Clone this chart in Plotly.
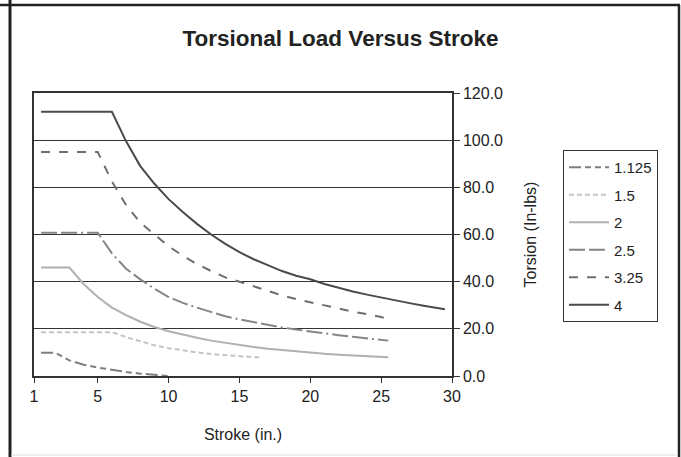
import plotly.graph_objects as go

# ---- data ----
x_1125 = [1, 2, 3, 4, 5, 6, 7, 8, 9, 10]
y_1125 = [9.9, 9.9, 6.6, 4.8, 3.6, 2.6, 1.7, 1.0, 0.4, 0.0]

x_15 = [1, 2, 3, 4, 5, 6, 7, 8, 9, 10, 11, 12, 13, 14, 15, 16, 16.5]
y_15 = [18.6, 18.6, 18.6, 18.6, 18.6, 18.6, 16.5, 14.6, 13.0, 11.8, 10.8, 10.0, 9.3, 8.8, 8.4, 8.0, 7.9]

x_2 = [1, 2, 3, 4, 5, 6, 7, 8, 9, 10, 11, 12, 13, 14, 15, 16, 17, 18, 19, 20, 21, 22, 23, 24, 25, 25.5]
y_2 = [46, 46, 46, 39, 33.5, 29, 25.8, 23, 20.8, 19, 17.5, 16.2, 15, 14, 13, 12.3, 11.6, 11, 10.4, 9.9, 9.4, 9, 8.6, 8.3, 8.0, 7.9]

x_25 = [1, 2, 3, 4, 5, 6, 7, 8, 9, 10, 11, 12, 13, 14, 15, 16, 17, 18, 19, 20, 21, 22, 23, 24, 25, 25.5]
y_25 = [60.7, 60.7, 60.7, 60.7, 60.7, 52, 45.5, 41, 37, 33.5, 31, 29, 27, 25.3, 24, 22.8, 21.6, 20.6, 19.7, 18.8, 18, 17.3, 16.6, 16, 15.3, 15]

x_325 = [1, 2, 3, 4, 5, 6, 7, 8, 9, 10, 11, 12, 13, 14, 15, 16, 17, 18, 19, 20, 21, 22, 23, 24, 25, 25.5]
y_325 = [95, 95, 95, 95, 95, 82.5, 72.5, 65, 59.8, 55, 51, 47.5, 44.5, 41.8, 40, 38, 36, 34.2, 32.6, 31.2, 29.8, 28.5, 27.3, 26.2, 25, 24]

x_4 = [1, 2, 3, 4, 5, 6, 7, 8, 9, 10, 11, 12, 13, 14, 15, 16, 17, 18, 19, 20, 21, 22, 23, 24, 25, 26, 27, 28, 29, 29.5]
y_4 = [112, 112, 112, 112, 112, 112, 99.5, 89, 81.5, 75, 69.5, 64.5, 60, 56, 52.5, 49.5, 47, 44.5, 42.5, 41, 39, 37.3, 35.8, 34.5, 33.2, 32, 30.9, 29.8, 28.8, 28.3]

series_names = ["1.125", "1.5", "2", "2.5", "3.25", "4"]
x_tick_vals = [0.5, 5, 10, 15, 20, 25, 30]
x_tick_text = ["1", "5", "10", "15", "20", "25", "30"]
y_tick_vals = [0, 20, 40, 60, 80, 100, 120]

FONT = "Arial, Liberation Sans, sans-serif"

styles = [
    dict(color="#7f7f7f", width=2, dash="12px,4px,6px,4px,6px,4px"),
    dict(color="#c4c4c4", width=2, dash="5px,3px"),
    dict(color="#b0b0b0", width=2, dash="solid"),
    dict(color="#858585", width=2, dash="16px,4px,16px,4px,2px,4px"),
    dict(color="#6e6e6e", width=2, dash="9px,9px"),
    dict(color="#4a4a4a", width=2, dash="solid"),
]
xs = [x_1125, x_15, x_2, x_25, x_325, x_4]
ys = [y_1125, y_15, y_2, y_25, y_325, y_4]

fig = go.Figure()
for name, x, y, st in zip(series_names, xs, ys, styles):
    fig.add_trace(go.Scatter(x=x, y=y, mode="lines", name=name, line=st,
                             legendgroup=name))

# plot area in pixels: x 34..452, y 93..376
L, R, T, B = 34, 452, 93, 376
W, H = 681, 457

def px(xp):
    return (xp - L) / (R - L)

def py(yp):
    return (B - yp) / (B - T)

shapes = [
    dict(type="line", xref="paper", yref="paper", x0=px(0), x1=px(680), y0=py(5), y1=py(5),
         line=dict(color="#222222", width=2.5)),
    dict(type="line", xref="paper", yref="paper", x0=px(10), x1=px(10), y0=py(0), y1=py(457),
         line=dict(color="#222222", width=3)),
    dict(type="line", xref="paper", yref="paper", x0=px(679), x1=px(679), y0=py(5), y1=py(457),
         line=dict(color="#222222", width=2.5)),
    dict(type="line", xref="paper", yref="paper", x0=px(11), x1=px(678), y0=py(455), y1=py(455),
         line=dict(color="#dddddd", width=1)),
]

fig.update_layout(
    width=W, height=H,
    margin=dict(l=L, r=W - R, t=T, b=H - B, pad=0),
    paper_bgcolor="white", plot_bgcolor="white",
    font=dict(family=FONT, size=16, color="#222222"),
    title=dict(text="<b>Torsional Load Versus Stroke</b>", x=0.5, xref="container",
               y=1 - 38 / H, yref="container", xanchor="center", yanchor="middle",
               font=dict(family=FONT, size=22.5, color="#222222")),
    xaxis=dict(range=[0.5, 30], tickvals=x_tick_vals, ticktext=x_tick_text,
               showgrid=False, zeroline=False, showline=True, mirror=True,
               linecolor="#333333", linewidth=1.5, ticks="outside", ticklen=5,
               tickcolor="#333333", tickfont=dict(size=16),
               title=dict(text="Stroke (in.)", font=dict(size=16), standoff=25)),
    yaxis=dict(range=[0, 120], tickvals=y_tick_vals, tickformat=".1f", side="right",
               showgrid=True, gridcolor="#333333", gridwidth=1, zeroline=False,
               showline=True, mirror=True, linecolor="#333333", linewidth=1.5,
               ticks="outside", ticklen=6, tickcolor="#333333", tickfont=dict(size=16),
               title=dict(text="Torsion (In-lbs)", font=dict(size=16), standoff=23)),
    legend=dict(x=px(563), y=py(150), xanchor="left", yanchor="top",
                bordercolor="#333333", borderwidth=1, bgcolor="white",
                font=dict(size=15), traceorder="grouped", tracegroupgap=5,
                itemwidth=40, entrywidth=96, entrywidthmode="pixels"),
    shapes=shapes,
    showlegend=True,
)

fig.write_html("out.html", config={"displayModeBar": False},
               post_script="document.body.style.margin='0px';")
